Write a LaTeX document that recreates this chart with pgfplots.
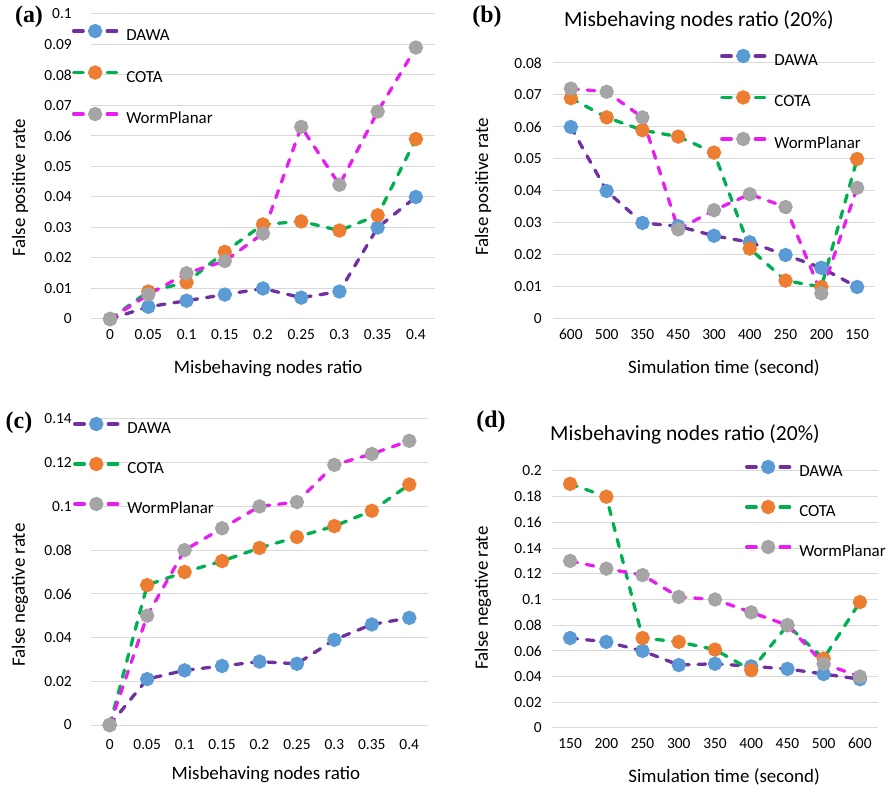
\documentclass[border=0pt]{standalone}
\usepackage{pgfplots}
\pgfplotsset{compat=1.18}
\usepackage{fontspec}
\setmainfont{Carlito}
\newfontfamily\serifb{Liberation Serif}
\definecolor{dawaL}{HTML}{7030A0}
\definecolor{dawaM}{HTML}{5B9BD5}
\definecolor{cotaL}{HTML}{00B050}
\definecolor{cotaM}{HTML}{ED7D31}
\definecolor{wpL}{HTML}{E81EF0}
\definecolor{wpM}{HTML}{A5A5A5}
\definecolor{gridc}{HTML}{D9D9D9}
\pgfplotsset{
  panel/.style={
    scale only axis, anchor=south west, clip=false,
    axis line style={draw=none}, tick style={draw=none},
    scaled ticks=false,
    ymajorgrids, grid style={gridc, line width=1bp},
    xmin=-0.5, xmax=8.5, xtick={0,1,2,3,4,5,6,7,8}, ymin=0,
    tick label style={font=\fontsize{15.5}{18}\selectfont, inner sep=0pt},
    xticklabel style={yshift=-10bp},
    yticklabel style={xshift=-19bp},
    label style={font=\fontsize{19}{22}\selectfont},
    xlabel style={anchor=center}, ylabel style={anchor=center},
    legend style={draw=none, fill=none, inner sep=0pt, outer sep=0pt, anchor=north west,
      font=\fontsize{17}{20}\selectfont, row sep=22.5bp, column sep=8bp,
      nodes={inner sep=0pt, text height=12bp, text depth=4bp}},
    legend cell align=left,
    legend image code/.code={
      \draw[##1, solid, mark=none] (1.5bp,5.5bp) -- (11bp,5.5bp);
      \draw[##1, solid, mark=none] (35bp,5.5bp) -- (44.5bp,5.5bp);
      \draw[##1, only marks] plot coordinates {(23bp,5.5bp)};},
  },
  ser/.style={line width=3.3bp, dash pattern=on 7.5bp off 9bp, line cap=round, mark=*, mark size=5.5bp},
  dawa/.style={ser, draw=dawaL, mark options={solid, fill=dawaM, draw=dawaM}},
  cota/.style={ser, draw=cotaL, mark options={solid, fill=cotaM, draw=cotaM}},
  wp/.style={ser, draw=wpL, mark options={solid, fill=wpM, draw=wpM}},
}
\begin{document}
\begin{tikzpicture}
\path[use as bounding box] (0,0) rectangle (893bp,790bp);
% (a)
\begin{axis}[panel, at={(91bp,471bp)}, width=344bp, height=305bp,
  ymax=0.1, ytick={0,0.01,0.02,0.03,0.04,0.05,0.06,0.07,0.08,0.09,0.1},
  yticklabels={0,0.01,0.02,0.03,0.04,0.05,0.06,0.07,0.08,0.09,0.1},
  xticklabels={0,0.05,0.1,0.15,0.2,0.25,0.3,0.35,0.4},
  xlabel={Misbehaving nodes ratio}, ylabel={False positive rate},
  xlabel style={at={(axis description cs:0.515,-0.161)}},
  ylabel style={at={(axis description cs:-0.206,0.43)}},
  legend style={at={(axis description cs:-0.0552,0.962)}}]
\addplot[dawa] coordinates {(0,0) (1,0.004) (2,0.006) (3,0.008) (4,0.010) (5,0.007) (6,0.009) (7,0.030) (8,0.040)};
\addplot[cota] coordinates {(0,0) (1,0.009) (2,0.012) (3,0.022) (4,0.031) (5,0.032) (6,0.029) (7,0.034) (8,0.059)};
\addplot[wp] coordinates {(0,0) (1,0.008) (2,0.015) (3,0.019) (4,0.028) (5,0.063) (6,0.044) (7,0.068) (8,0.089)};
\legend{DAWA,COTA,WormPlanar}
\end{axis}
% (b)
\begin{axis}[panel, at={(553bp,471bp)}, width=322bp, height=256bp,
  ymax=0.08, ytick={0,0.01,0.02,0.03,0.04,0.05,0.06,0.07,0.08},
  yticklabels={0,0.01,0.02,0.03,0.04,0.05,0.06,0.07,0.08},
  yticklabel style={xshift=8bp},
  xticklabels={600,500,350,450,300,400,250,200,150},
  xlabel={Simulation time (second)}, ylabel={False positive rate},
  xlabel style={at={(axis description cs:0.531,-0.191)}},
  ylabel style={at={(axis description cs:-0.217,0.516)}},
  legend style={at={(axis description cs:0.519,1.049)}}]
\addplot[dawa] coordinates {(0,0.060) (1,0.040) (2,0.030) (3,0.029) (4,0.026) (5,0.024) (6,0.020) (7,0.016) (8,0.010)};
\addplot[cota] coordinates {(0,0.069) (1,0.063) (2,0.059) (3,0.057) (4,0.052) (5,0.022) (6,0.012) (7,0.010) (8,0.050)};
\addplot[wp] coordinates {(0,0.072) (1,0.071) (2,0.063) (3,0.028) (4,0.034) (5,0.039) (6,0.035) (7,0.008) (8,0.041)};
\legend{DAWA,COTA,WormPlanar}
\end{axis}
% (c)
\begin{axis}[panel, at={(91bp,65bp)}, width=337bp, height=306bp,
  ymax=0.14, ytick={0,0.02,0.04,0.06,0.08,0.1,0.12,0.14},
  yticklabels={0,0.02,0.04,0.06,0.08,0.1,0.12,0.14},
  xticklabels={0,0.05,0.1,0.15,0.2,0.25,0.3,0.35,0.4},
  xticklabel style={yshift=-4.5bp},
  xlabel={Misbehaving nodes ratio}, ylabel={False negative rate},
  xlabel style={at={(axis description cs:0.519,-0.163)}},
  ylabel style={at={(axis description cs:-0.211,0.425)}},
  legend style={at={(axis description cs:-0.053,1.0016)}, row sep=21bp}]
\addplot[dawa] coordinates {(0,0) (1,0.021) (2,0.025) (3,0.027) (4,0.029) (5,0.028) (6,0.039) (7,0.046) (8,0.049)};
\addplot[cota] coordinates {(0,0) (1,0.064) (2,0.070) (3,0.075) (4,0.081) (5,0.086) (6,0.091) (7,0.098) (8,0.110)};
\addplot[wp] coordinates {(0,0) (1,0.050) (2,0.080) (3,0.090) (4,0.100) (5,0.102) (6,0.119) (7,0.124) (8,0.130)};
\legend{DAWA,COTA,WormPlanar}
\end{axis}
% (d)
\begin{axis}[panel, at={(552bp,62bp)}, width=326bp, height=257bp,
  ymax=0.2, ytick={0,0.02,0.04,0.06,0.08,0.1,0.12,0.14,0.16,0.18,0.2},
  yticklabels={0,0.02,0.04,0.06,0.08,0.1,0.12,0.14,0.16,0.18,0.2},
  yticklabel style={xshift=9bp},
  xticklabels={150,200,250,300,350,400,450,500,600},
  xlabel={Simulation time (second)}, ylabel={False negative rate},
  xlabel style={at={(axis description cs:0.528,-0.191)}},
  ylabel style={at={(axis description cs:-0.212,0.506)}},
  legend style={at={(axis description cs:0.592,1.037)}, row sep=21bp}]
\addplot[dawa] coordinates {(0,0.070) (1,0.067) (2,0.060) (3,0.049) (4,0.050) (5,0.048) (6,0.046) (7,0.042) (8,0.038)};
\addplot[cota] coordinates {(0,0.190) (1,0.180) (2,0.070) (3,0.067) (4,0.061) (5,0.045) (6,0.080) (7,0.054) (8,0.098)};
\addplot[wp] coordinates {(0,0.130) (1,0.124) (2,0.119) (3,0.102) (4,0.100) (5,0.090) (6,0.080) (7,0.050) (8,0.040)};
\legend{DAWA,COTA,WormPlanar}
\end{axis}
% titles and panel labels
\node[font=\fontsize{21.6}{24}\selectfont] at (699bp,770bp) {Misbehaving nodes ratio (20\%)};
\node[font=\fontsize{21.6}{24}\selectfont] at (685bp,356bp) {Misbehaving nodes ratio (20\%)};
\node[font=\serifb\bfseries\fontsize{24}{26}\selectfont] at (29bp,773bp) {(a)};
\node[font=\serifb\bfseries\fontsize{24}{26}\selectfont] at (487bp,773bp) {(b)};
\node[font=\serifb\bfseries\fontsize{24}{26}\selectfont] at (19bp,367bp) {(c)};
\node[font=\serifb\bfseries\fontsize{24}{26}\selectfont] at (491bp,368bp) {(d)};
\end{tikzpicture}
\end{document}
